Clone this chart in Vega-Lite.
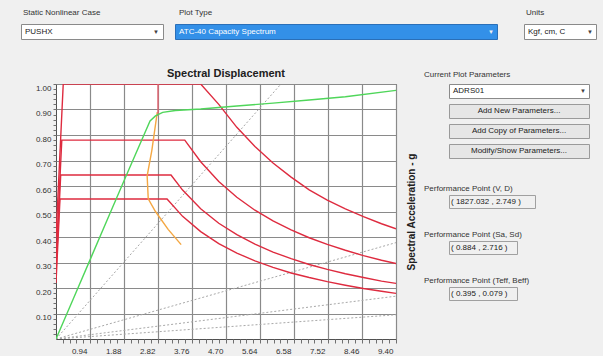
{
  "$schema": "https://vega.github.io/schema/vega-lite/v6.json",
  "background": "#f0f0f0",
  "padding": {"left": 18, "top": 8, "right": 6, "bottom": 0},
  "config": {
    "font": "Liberation Sans",
    "view": {"fill": "white", "stroke": "#505050", "strokeWidth": 1},
    "title": {"fontSize": 8, "fontWeight": "normal", "color": "#333333", "anchor": "start"}
  },
  "datasets": {
    "periods": [
      {"T": "0.5", "sd": 0, "sa": 0}, {"T": "0.5", "sd": 6.22, "sa": 1.0},
      {"T": "1.0", "sd": 0, "sa": 0}, {"T": "1.0", "sd": 9.4, "sa": 0.378},
      {"T": "1.5", "sd": 0, "sa": 0}, {"T": "1.5", "sd": 9.4, "sa": 0.168},
      {"T": "2.0", "sd": 0, "sa": 0}, {"T": "2.0", "sd": 9.4, "sa": 0.095}
    ],
    "demand": [
      {"curve": "A", "sd": 0, "sa": 0.40}, {"curve": "A", "sd": 0.2, "sa": 1.0}, {"curve": "A", "sd": 4.0, "sa": 1.0},
      {"curve": "A", "sd": 4.5, "sa": 0.92}, {"curve": "A", "sd": 5.0, "sa": 0.83}, {"curve": "A", "sd": 5.5, "sa": 0.755},
      {"curve": "A", "sd": 6.0, "sa": 0.69}, {"curve": "A", "sd": 6.5, "sa": 0.635}, {"curve": "A", "sd": 7.0, "sa": 0.585},
      {"curve": "A", "sd": 7.5, "sa": 0.545}, {"curve": "A", "sd": 8.0, "sa": 0.51}, {"curve": "A", "sd": 8.5, "sa": 0.48},
      {"curve": "A", "sd": 9.0, "sa": 0.452}, {"curve": "A", "sd": 9.4, "sa": 0.432},
      {"curve": "B", "sd": 0, "sa": 0.31}, {"curve": "B", "sd": 0.16, "sa": 0.78}, {"curve": "B", "sd": 3.56, "sa": 0.78},
      {"curve": "B", "sd": 4.0, "sa": 0.695}, {"curve": "B", "sd": 4.5, "sa": 0.618}, {"curve": "B", "sd": 5.0, "sa": 0.556},
      {"curve": "B", "sd": 5.5, "sa": 0.505}, {"curve": "B", "sd": 6.0, "sa": 0.463}, {"curve": "B", "sd": 6.5, "sa": 0.428},
      {"curve": "B", "sd": 7.0, "sa": 0.397}, {"curve": "B", "sd": 7.5, "sa": 0.371}, {"curve": "B", "sd": 8.0, "sa": 0.348},
      {"curve": "B", "sd": 8.5, "sa": 0.327}, {"curve": "B", "sd": 9.0, "sa": 0.309}, {"curve": "B", "sd": 9.4, "sa": 0.296},
      {"curve": "C", "sd": 0, "sa": 0.26}, {"curve": "C", "sd": 0.13, "sa": 0.643}, {"curve": "C", "sd": 3.18, "sa": 0.643},
      {"curve": "C", "sd": 3.5, "sa": 0.584}, {"curve": "C", "sd": 4.0, "sa": 0.511}, {"curve": "C", "sd": 4.5, "sa": 0.454},
      {"curve": "C", "sd": 5.0, "sa": 0.409}, {"curve": "C", "sd": 5.5, "sa": 0.372}, {"curve": "C", "sd": 6.0, "sa": 0.341},
      {"curve": "C", "sd": 6.5, "sa": 0.315}, {"curve": "C", "sd": 7.0, "sa": 0.292}, {"curve": "C", "sd": 7.5, "sa": 0.273},
      {"curve": "C", "sd": 8.0, "sa": 0.256}, {"curve": "C", "sd": 8.5, "sa": 0.241}, {"curve": "C", "sd": 9.0, "sa": 0.227},
      {"curve": "C", "sd": 9.4, "sa": 0.218},
      {"curve": "D", "sd": 0, "sa": 0.22}, {"curve": "D", "sd": 0.11, "sa": 0.549}, {"curve": "D", "sd": 3.07, "sa": 0.549},
      {"curve": "D", "sd": 3.5, "sa": 0.481}, {"curve": "D", "sd": 4.0, "sa": 0.421}, {"curve": "D", "sd": 4.5, "sa": 0.374},
      {"curve": "D", "sd": 5.0, "sa": 0.337}, {"curve": "D", "sd": 5.5, "sa": 0.306}, {"curve": "D", "sd": 6.0, "sa": 0.281},
      {"curve": "D", "sd": 6.5, "sa": 0.259}, {"curve": "D", "sd": 7.0, "sa": 0.241}, {"curve": "D", "sd": 7.5, "sa": 0.225},
      {"curve": "D", "sd": 8.0, "sa": 0.211}, {"curve": "D", "sd": 8.5, "sa": 0.198}, {"curve": "D", "sd": 9.0, "sa": 0.187},
      {"curve": "D", "sd": 9.4, "sa": 0.179}
    ],
    "single": [
      {"sd": 2.8, "sa": 0.89}, {"sd": 2.65, "sa": 0.74}, {"sd": 2.52, "sa": 0.64}, {"sd": 2.55, "sa": 0.55},
      {"sd": 2.75, "sa": 0.5}, {"sd": 3.1, "sa": 0.43}, {"sd": 3.46, "sa": 0.37}
    ],
    "pp": [
      {"sd": 2.82, "sa": 1.0}, {"sd": 2.82, "sa": 0.875}
    ],
    "capacity": [
      {"sd": 0, "sa": 0}, {"sd": 0.5, "sa": 0.165}, {"sd": 1.0, "sa": 0.33}, {"sd": 1.5, "sa": 0.495},
      {"sd": 2.0, "sa": 0.66}, {"sd": 2.6, "sa": 0.855}, {"sd": 2.75, "sa": 0.875}, {"sd": 2.95, "sa": 0.889},
      {"sd": 3.3, "sa": 0.896}, {"sd": 4.0, "sa": 0.902}, {"sd": 5.0, "sa": 0.914}, {"sd": 6.0, "sa": 0.925},
      {"sd": 7.0, "sa": 0.937}, {"sd": 8.0, "sa": 0.95}, {"sd": 9.4, "sa": 0.975}
    ]
  },
  "columns": 1,
  "spacing": 27,
  "concat": [
    {
      "spacing": 25,
      "hconcat": [
        {
          "spacing": 10,
          "hconcat": [
            {
              "width": 142, "height": 15,
              "view": {"fill": "white", "stroke": "#8a8a8a"},
              "title": {"text": "Static Nonlinear Case", "offset": 7, "dx": 2},
              "data": {"values": [{"label": "PUSHX"}]},
              "layer": [
                {"mark": {"type": "text", "align": "left", "baseline": "middle", "fontSize": 8, "color": "#202020", "dx": 4},
                 "encoding": {"text": {"field": "label"},
                   "x": {"datum": 0, "type": "quantitative", "scale": {"domain": [0, 1]}, "axis": null},
                   "y": {"datum": 0.5, "type": "quantitative", "scale": {"domain": [0, 1]}, "axis": null}}},
                {"mark": {"type": "text", "align": "right", "baseline": "middle", "fontSize": 6, "color": "#404040", "dx": -4, "text": "▼"},
                 "encoding": {
                   "x": {"datum": 1, "type": "quantitative", "scale": {"domain": [0, 1]}, "axis": null},
                   "y": {"datum": 0.5, "type": "quantitative", "scale": {"domain": [0, 1]}, "axis": null}}}
              ]
            },
            {
              "width": 322, "height": 15,
              "view": {"fill": "#3390e8", "stroke": "#2a6fb8"},
              "title": {"text": "Plot Type", "offset": 7, "dx": 4},
              "data": {"values": [{"label": "ATC-40 Capacity Spectrum"}]},
              "layer": [
                {"mark": {"type": "text", "align": "left", "baseline": "middle", "fontSize": 8, "color": "white", "dx": 4},
                 "encoding": {"text": {"field": "label"},
                   "x": {"datum": 0, "type": "quantitative", "scale": {"domain": [0, 1]}, "axis": null},
                   "y": {"datum": 0.5, "type": "quantitative", "scale": {"domain": [0, 1]}, "axis": null}}},
                {"mark": {"type": "text", "align": "right", "baseline": "middle", "fontSize": 6, "color": "#f0f0f0", "dx": -3, "text": "▼"},
                 "encoding": {
                   "x": {"datum": 1, "type": "quantitative", "scale": {"domain": [0, 1]}, "axis": null},
                   "y": {"datum": 0.5, "type": "quantitative", "scale": {"domain": [0, 1]}, "axis": null}}}
              ]
            }
          ]
        },
        {
          "width": 72, "height": 15,
          "view": {"fill": "white", "stroke": "#8a8a8a"},
          "title": {"text": "Units", "offset": 7, "dx": 2},
          "data": {"values": [{"label": "Kgf, cm, C"}]},
          "layer": [
            {"mark": {"type": "text", "align": "left", "baseline": "middle", "fontSize": 8, "color": "#202020", "dx": 4},
             "encoding": {"text": {"field": "label"},
               "x": {"datum": 0, "type": "quantitative", "scale": {"domain": [0, 1]}, "axis": null},
               "y": {"datum": 0.5, "type": "quantitative", "scale": {"domain": [0, 1]}, "axis": null}}},
            {"mark": {"type": "text", "align": "right", "baseline": "middle", "fontSize": 6, "color": "#404040", "dx": -3, "text": "▼"},
             "encoding": {
               "x": {"datum": 1, "type": "quantitative", "scale": {"domain": [0, 1]}, "axis": null},
               "y": {"datum": 0.5, "type": "quantitative", "scale": {"domain": [0, 1]}, "axis": null}}}
          ]
        }
      ]
    },
    {
      "spacing": 0,
      "hconcat": [
        {
          "width": 1, "height": 1,
          "view": {"fill": null, "stroke": null},
          "data": {"values": [{"label": ""}]},
          "mark": {"type": "point", "opacity": 0}
        },
        {
          "width": 340,
          "height": 255,
          "title": {"text": "Spectral Displacement", "fontSize": 11, "fontWeight": "bold", "color": "#202020", "offset": 5, "anchor": "middle", "frame": "group"},
          "encoding": {
            "x": {"field": "sd", "type": "quantitative", "scale": {"domain": [0, 9.4], "nice": false, "zero": false},
              "axis": {
                "values": [0.188, 0.376, 0.564, 0.752, 0.94, 1.128, 1.316, 1.504, 1.692, 1.88, 2.068, 2.256, 2.444, 2.632, 2.82, 3.008, 3.196, 3.384, 3.572, 3.76, 3.948, 4.136, 4.324, 4.512, 4.7, 4.888, 5.076, 5.264, 5.452, 5.64, 5.828, 6.016, 6.204, 6.392, 6.58, 6.768, 6.956, 7.144, 7.332, 7.52, 7.708, 7.896, 8.084, 8.272, 8.46, 8.648, 8.836, 9.024, 9.212, 9.4],
                "tickCount": 100,
                "labelExpr": "abs(datum.value/0.94 - round(datum.value/0.94)) < 0.01 ? format(datum.value, '.2f') : ''",
                "grid": true,
                "gridColor": "#8a8a8a",
                "gridWidth": 1.2,
                "gridOpacity": {"condition": {"test": "abs(datum.value/0.94 - round(datum.value/0.94)) < 0.01", "value": 1}, "value": 0},
                "domain": false,
                "tickSize": 4, "tickColor": "#707070", "tickWidth": 1,
                "labelFontSize": 8, "labelColor": "#303030", "labelAlign": "right", "labelOffset": -3,
                "labelPadding": 4, "labelBaseline": "top", "labelFlush": false, "labelOverlap": false, "labelBound": false,
                "title": null
              }}
          },
          "layer": [
            {
              "data": {"name": "periods"},
              "mark": {"type": "line", "color": "#a8a8a8", "strokeWidth": 1, "strokeDash": [2, 2], "clip": true},
              "encoding": {
                "y": {"field": "sa", "type": "quantitative", "scale": {"domain": [0, 1], "nice": false, "zero": false},
                  "axis": {
                    "values": [0.02, 0.04, 0.06, 0.08, 0.1, 0.12, 0.14, 0.16, 0.18, 0.2, 0.22, 0.24, 0.26, 0.28, 0.3, 0.32, 0.34, 0.36, 0.38, 0.4, 0.42, 0.44, 0.46, 0.48, 0.5, 0.52, 0.54, 0.56, 0.58, 0.6, 0.62, 0.64, 0.66, 0.68, 0.7, 0.72, 0.74, 0.76, 0.78, 0.8, 0.82, 0.84, 0.86, 0.88, 0.9, 0.92, 0.94, 0.96, 0.98, 1.0],
                    "tickCount": 100,
                    "labelExpr": "abs(datum.value*10 - round(datum.value*10)) < 0.01 ? format(datum.value, '.2f') : ''",
                    "grid": true,
                    "gridColor": "#8a8a8a",
                    "gridWidth": 1.2,
                    "gridOpacity": {"condition": {"test": "abs(datum.value*10 - round(datum.value*10)) < 0.01", "value": 1}, "value": 0},
                    "domain": false,
                    "tickSize": 3, "tickColor": "#707070", "tickWidth": 1,
                    "labelFontSize": 8, "labelColor": "#303030", "labelPadding": 2, "labelBaseline": "top",
                    "labelFlush": false, "labelOverlap": false, "labelBound": false,
                    "minExtent": 30,
                    "title": null
                  }},
                "detail": {"field": "T", "type": "nominal"}
              }
            },
            {
              "data": {"name": "demand"},
              "mark": {"type": "line", "color": "#de2b3f", "strokeWidth": 1.4, "clip": true},
              "encoding": {
                "y": {"field": "sa", "type": "quantitative", "scale": {"domain": [0, 1], "nice": false, "zero": false}, "axis": null},
                "detail": {"field": "curve", "type": "nominal"},
                "order": {"field": "sd", "type": "quantitative"}
              }
            },
            {
              "data": {"name": "single"},
              "mark": {"type": "line", "color": "#f4a742", "strokeWidth": 1.4, "clip": true},
              "encoding": {
                "y": {"field": "sa", "type": "quantitative", "scale": {"domain": [0, 1], "nice": false, "zero": false}, "axis": null},
                "order": {"field": "sa", "type": "quantitative", "sort": "descending"}
              }
            },
            {
              "data": {"name": "pp"},
              "mark": {"type": "line", "color": "#e2606e", "strokeWidth": 1.4, "clip": true},
              "encoding": {
                "y": {"field": "sa", "type": "quantitative", "scale": {"domain": [0, 1], "nice": false, "zero": false}, "axis": null}
              }
            },
            {
              "data": {"name": "capacity"},
              "mark": {"type": "line", "color": "#4fd65a", "strokeWidth": 1.4, "clip": true},
              "encoding": {
                "y": {"field": "sa", "type": "quantitative", "scale": {"domain": [0, 1], "nice": false, "zero": false},
                  "axis": {"orient": "right", "labels": false, "ticks": false, "domain": false, "grid": false,
                    "title": "Spectral Acceleration - g", "titleAngle": 270, "titleFontSize": 10, "titleFontWeight": "bold",
                    "titleColor": "#202020", "titlePadding": 20}}
              }
            }
          ],
          "resolve": {"axis": {"y": "independent"}}
        },
        {
          "spacing": 25,
          "vconcat": [
            {
              "spacing": 4,
              "vconcat": [
                {
                  "width": 140, "height": 14,
                  "view": {"fill": "white", "stroke": "#8a8a8a"},
                  "title": {"text": "Current Plot Parameters", "offset": 5, "dx": 6},
                  "data": {"values": [{"label": "ADRS01"}]},
                  "layer": [
                    {"mark": {"type": "text", "align": "left", "baseline": "middle", "fontSize": 8, "color": "#202020", "dx": 4},
                     "encoding": {"text": {"field": "label"},
                       "x": {"datum": 0, "type": "quantitative", "scale": {"domain": [0, 1]}, "axis": null},
                       "y": {"datum": 0.5, "type": "quantitative", "scale": {"domain": [0, 1]},
                         "axis": {"labels": false, "ticks": false, "domain": false, "grid": false, "title": null, "minExtent": 31}}}},
                    {"mark": {"type": "text", "align": "right", "baseline": "middle", "fontSize": 6, "color": "#404040", "dx": -3, "text": "▼"},
                     "encoding": {
                       "x": {"datum": 1, "type": "quantitative", "scale": {"domain": [0, 1]}, "axis": null},
                       "y": {"datum": 0.5, "type": "quantitative", "scale": {"domain": [0, 1]}}}}
                  ]
                },
                {
                  "width": 140, "height": 14,
                  "view": {"fill": "#e6e6e6", "stroke": "#9a9a9a"},
                  "data": {"values": [{"label": "Add New Parameters..."}]},
                  "mark": {"type": "text", "align": "center", "baseline": "middle", "fontSize": 8, "color": "#202020"},
                  "encoding": {"text": {"field": "label"},
                    "x": {"datum": 0.5, "type": "quantitative", "scale": {"domain": [0, 1]}, "axis": null},
                    "y": {"datum": 0.5, "type": "quantitative", "scale": {"domain": [0, 1]},
                      "axis": {"labels": false, "ticks": false, "domain": false, "grid": false, "title": null, "minExtent": 31}}}
                },
                {
                  "width": 140, "height": 14,
                  "view": {"fill": "#e6e6e6", "stroke": "#9a9a9a"},
                  "data": {"values": [{"label": "Add Copy of Parameters..."}]},
                  "mark": {"type": "text", "align": "center", "baseline": "middle", "fontSize": 8, "color": "#202020"},
                  "encoding": {"text": {"field": "label"},
                    "x": {"datum": 0.5, "type": "quantitative", "scale": {"domain": [0, 1]}, "axis": null},
                    "y": {"datum": 0.5, "type": "quantitative", "scale": {"domain": [0, 1]},
                      "axis": {"labels": false, "ticks": false, "domain": false, "grid": false, "title": null, "minExtent": 31}}}
                },
                {
                  "width": 140, "height": 14,
                  "view": {"fill": "#e6e6e6", "stroke": "#9a9a9a"},
                  "data": {"values": [{"label": "Modify/Show Parameters..."}]},
                  "mark": {"type": "text", "align": "center", "baseline": "middle", "fontSize": 8, "color": "#202020"},
                  "encoding": {"text": {"field": "label"},
                    "x": {"datum": 0.5, "type": "quantitative", "scale": {"domain": [0, 1]}, "axis": null},
                    "y": {"datum": 0.5, "type": "quantitative", "scale": {"domain": [0, 1]},
                      "axis": {"labels": false, "ticks": false, "domain": false, "grid": false, "title": null, "minExtent": 31}}}
                }
              ]
            },
            {
              "spacing": 21,
              "vconcat": [
                {
                  "width": 86, "height": 13,
                  "view": {"fill": "#f0f0f0", "stroke": "#a0a0a0"},
                  "title": {"text": "Performance Point (V, D)", "offset": 2, "dx": 6},
                  "data": {"values": [{"label": "( 1827.032 , 2.749 )"}]},
                  "mark": {"type": "text", "align": "left", "baseline": "middle", "fontSize": 8, "color": "#202020", "dx": 2},
                  "encoding": {"text": {"field": "label"},
                    "x": {"datum": 0, "type": "quantitative", "scale": {"domain": [0, 1]}, "axis": null},
                    "y": {"datum": 0.5, "type": "quantitative", "scale": {"domain": [0, 1]},
                      "axis": {"labels": false, "ticks": false, "domain": false, "grid": false, "title": null, "minExtent": 31}}}
                },
                {
                  "width": 68, "height": 13,
                  "view": {"fill": "#f0f0f0", "stroke": "#a0a0a0"},
                  "title": {"text": "Performance Point (Sa, Sd)", "offset": 2, "dx": 6},
                  "data": {"values": [{"label": "( 0.884 , 2.716 )"}]},
                  "mark": {"type": "text", "align": "left", "baseline": "middle", "fontSize": 8, "color": "#202020", "dx": 2},
                  "encoding": {"text": {"field": "label"},
                    "x": {"datum": 0, "type": "quantitative", "scale": {"domain": [0, 1]}, "axis": null},
                    "y": {"datum": 0.5, "type": "quantitative", "scale": {"domain": [0, 1]},
                      "axis": {"labels": false, "ticks": false, "domain": false, "grid": false, "title": null, "minExtent": 31}}}
                },
                {
                  "width": 68, "height": 13,
                  "view": {"fill": "#f0f0f0", "stroke": "#a0a0a0"},
                  "title": {"text": "Performance Point (Teff, Beff)", "offset": 2, "dx": 6},
                  "data": {"values": [{"label": "( 0.395 , 0.079 )"}]},
                  "mark": {"type": "text", "align": "left", "baseline": "middle", "fontSize": 8, "color": "#202020", "dx": 2},
                  "encoding": {"text": {"field": "label"},
                    "x": {"datum": 0, "type": "quantitative", "scale": {"domain": [0, 1]}, "axis": null},
                    "y": {"datum": 0.5, "type": "quantitative", "scale": {"domain": [0, 1]},
                      "axis": {"labels": false, "ticks": false, "domain": false, "grid": false, "title": null, "minExtent": 31}}}
                }
              ]
            }
          ]
        }
      ]
    }
  ]
}
